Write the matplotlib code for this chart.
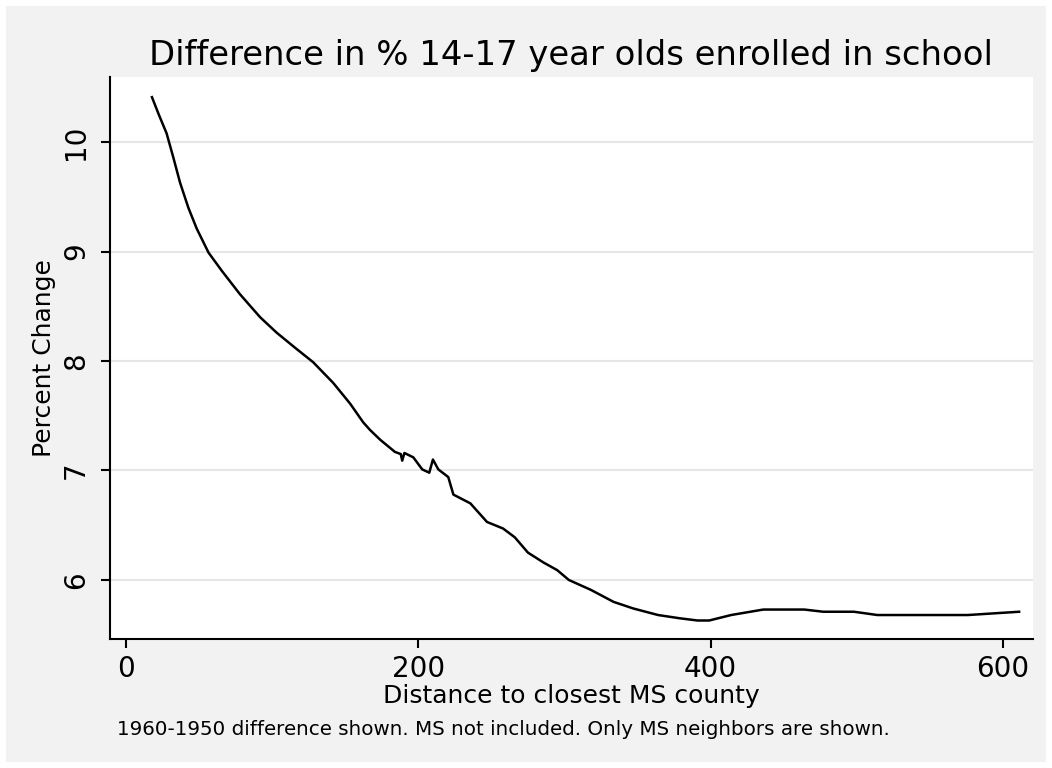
import matplotlib
matplotlib.use("Agg")
import matplotlib.pyplot as plt
from matplotlib.patches import Rectangle

# distance to closest MS county vs. percent change
distance = [17.8, 22.5, 27.8, 32.4, 37.0, 42.7, 48.4, 56.5, 65.8, 78.0, 91.8,
            103.0, 115.8, 128.0, 141.8, 153.4, 162.3, 167.0, 174.0, 184.0,
            188.0, 189.0, 190.5, 196.6, 202.7, 207.5, 210.0, 213.7, 220.5,
            224.0, 235.6, 247.0, 258.0, 266.0, 275.0, 285.6, 295.0, 303.0,
            318.0, 333.6, 347.0, 364.0, 379.0, 391.0, 399.0, 414.0, 436.0,
            464.0, 477.0, 498.0, 514.0, 576.0, 611.0]
pct_change = [10.41, 10.25, 10.08, 9.86, 9.63, 9.40, 9.21, 8.99, 8.82, 8.61,
              8.40, 8.26, 8.12, 7.99, 7.80, 7.61, 7.44, 7.37, 7.28, 7.17,
              7.15, 7.09, 7.16, 7.12, 7.01, 6.98, 7.10, 7.01, 6.94, 6.78,
              6.70, 6.53, 6.47, 6.39, 6.25, 6.16, 6.09, 6.00, 5.91, 5.80,
              5.74, 5.68, 5.65, 5.63, 5.63, 5.68, 5.73, 5.73, 5.71, 5.71,
              5.68, 5.68, 5.71]

x_ticks = [0, 200, 400, 600]
y_ticks = [6, 7, 8, 9, 10]

W, H = 1052, 768
plt.rcParams['font.family'] = ['DejaVu Sans']

fig = plt.figure(figsize=(W / 100, H / 100), dpi=100, facecolor='white')
# grey graph region like Stata's s2color scheme
fig.patches.append(Rectangle((6 / W, 6 / H), 1040 / W, 756 / H,
                             transform=fig.transFigure, facecolor='#f2f2f2',
                             edgecolor='none', zorder=-1))

ax = fig.add_axes([110 / W, (H - 639) / H, (1033 - 110) / W, (639 - 77) / H])
ax.set_facecolor('white')
ax.plot(distance, pct_change, color='black', linewidth=1.8)

ax.set_xlim(-10.9, 620.5)
ax.set_ylim(5.461, 10.594)
ax.set_xticks(x_ticks)
ax.set_yticks(y_ticks)
ax.set_xticklabels([str(t) for t in x_ticks], fontsize=20)
ax.set_yticklabels([str(t) for t in y_ticks], fontsize=20, rotation=90, va='center')
ax.tick_params(direction='out', length=6.5, width=1.5, color='black')
ax.tick_params(axis='x', pad=5)
ax.tick_params(axis='y', pad=8)

ax.grid(axis='y', color='#e6e6e6', linewidth=1.5)
ax.set_axisbelow(True)
for side in ['top', 'right']:
    ax.spines[side].set_visible(False)
for side in ['left', 'bottom']:
    ax.spines[side].set_linewidth(1.5)

fig.text(571 / W, 1 - 65 / H, 'Difference in % 14-17 year olds enrolled in school',
         fontsize=24.4, ha='center', va='baseline')
fig.text(571 / W, 1 - 703 / H, 'Distance to closest MS county',
         fontsize=18, ha='center', va='baseline')
fig.text(44 / W, 1 - 358 / H, 'Percent Change', fontsize=18, rotation=90,
         ha='center', va='center')
fig.text(117 / W, 1 - 735 / H,
         '1960-1950 difference shown. MS not included. Only MS neighbors are shown.',
         fontsize=14.3, ha='left', va='baseline')

fig.savefig('out.png', dpi=100, facecolor=fig.get_facecolor())
